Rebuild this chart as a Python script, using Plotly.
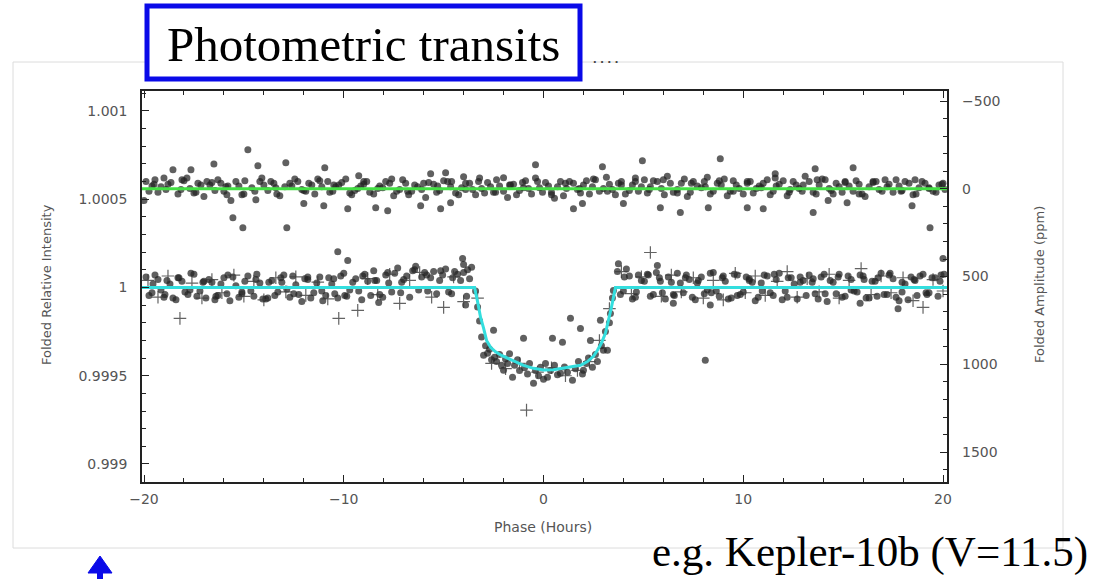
import plotly.graph_objects as go

# ---------------- data ----------------
# Phase in hours; intensity given as (relative intensity - 1) in ppm.
upper_a_phase = [
    -19.9, -19.6, -19.3, -19.0, -18.8, -18.3, -18.0, -17.7, -17.3, -17.0,
    -16.7, -16.3, -16.0, -15.8, -15.4, -15.0, -14.6, -14.1, -13.8, -13.5,
    -13.2, -12.6, -12.3, -11.9, -11.6, -11.3, -10.7, -10.4, -10.1, -9.6,
    -9.3, -9.0, -8.7, -8.2, -7.9, -7.5, -7.2, -6.9, -6.6, -6.3,
    -5.9, -5.5, -5.2, -4.8, -4.4, -4.1, -3.7, -3.4, -3.1, -2.8,
    -2.5, -2.2, -1.8, -1.5, -1.2, -0.9, -0.6, -0.2, 0.1, 0.4,
    0.7, 1.0, 1.3, 1.7, 2.0, 2.3, 2.6, 3.0, 3.3, 3.6,
    3.9, 4.3, 4.6, 4.9, 5.2, 5.5, 5.9, 6.2, 6.5, 6.9,
    7.2, 7.5, 7.9, 8.2, 8.5, 8.9, 9.2, 9.5, 9.8, 10.2,
    10.5, 10.8, 11.2, 11.5, 11.8, 12.2, 12.5, 12.8, 13.1, 13.5,
    13.8, 14.1, 14.5, 14.8, 15.1, 15.5, 15.8, 16.1, 16.5, 16.8,
    17.1, 17.5, 17.8, 18.1, 18.5, 18.8, 19.1, 19.5, 19.8, 20.1,
]
upper_a_ppm = [
    600, 575, 540, 620, 585, 530, 605, 560, 590, 515,
    580, 610, 545, 575, 600, 530, 565, 620, 550, 590,
    520, 575, 600, 545, 580, 615, 540, 570, 595, 525,
    560, 585, 540, 575, 600, 520, 555, 590, 545, 570,
    510, 585, 550, 600, 535, 565, 590, 525, 560, 595,
    540, 575, 510, 585, 550, 605, 530, 565, 595, 540,
    570, 520, 600, 555, 580, 530, 610, 560, 585, 525,
    600, 550, 620, 570, 535, 605, 560, 630, 540, 590,
    515, 600, 565, 625, 545, 580, 520, 605, 560, 590,
    535, 575, 610, 545, 585, 520, 600, 560, 630, 540,
    580, 610, 530, 570, 600, 545, 585, 515, 595, 555,
    610, 540, 575, 600, 525, 565, 590, 545, 580, 555,
]
upper_b_phase = [
    -19.75, -19.45, -19.15, -18.65, -18.15, -17.85, -17.5, -17.15, -16.85, -16.45,
    -16.15, -15.85, -15.25, -14.95, -14.45, -14.0, -13.65, -13.35, -12.95, -12.45,
    -12.1, -11.75, -11.45, -11.1, -10.8, -10.55, -10.25, -9.9, -9.45, -9.15,
    -8.85, -8.5, -8.05, -7.7, -7.35, -7.05, -6.75, -6.45, -6.1, -5.75,
    -5.35, -5.0, -4.65, -4.25, -3.9, -3.55, -3.25, -2.95, -2.65, -2.35,
    -2.0, -1.65, -1.35, -1.05, -0.75, -0.4, -0.05, 0.25, 0.55, 0.85,
    1.15, 1.5, 1.85, 2.15, 2.45, 2.8, 3.15, 3.45, 3.75, 4.1,
    4.45, 4.75, 5.05, 5.35, 5.7, 6.05, 6.35, 6.7, 7.05, 7.35,
    7.7, 8.05, 8.35, 8.7, 9.05, 9.35, 9.65, 10.0, 10.35, 10.65,
    11.0, 11.35, 11.65, 12.0, 12.35, 12.65, 12.95, 13.3, 13.65, 13.95,
    14.3, 14.65, 14.95, 15.3, 15.65, 15.95, 16.3, 16.65, 16.95, 17.3,
    17.65, 17.95, 18.3, 18.65, 18.95, 19.3, 19.65, 19.95,
]
upper_b_ppm = [
    545, 610, 570, 595, 555, 620, 535, 580, 600, 550,
    590, 525, 575, 605, 545, 580, 600, 530, 570, 615,
    555, 590, 530, 570, 600, 545, 580, 615, 550, 575,
    600, 530, 565, 590, 545, 610, 525, 580, 555, 595,
    540, 605, 570, 525, 590, 555, 600, 535, 570, 610,
    545, 580, 525, 595, 560, 620, 540, 575, 505, 600,
    560, 590, 535, 605, 570, 545, 625, 555, 590, 530,
    580, 545, 610, 570, 600, 525, 590, 555, 615, 540,
    575, 600, 530, 590, 615, 545, 580, 530, 600, 560,
    590, 525, 575, 605, 555, 580, 545, 600, 530, 615,
    560, 590, 540, 575, 605, 530, 570, 600, 545, 585,
    610, 550, 590, 530, 600, 565, 540, 585,
]
upper_c_phase = [
    -19.5, -18.9, -18.1, -17.4, -16.6, -15.9, -15.1, -14.2, -13.4, -12.7,
    -12.0, -11.2, -10.5, -9.7, -9.0, -8.3, -7.6, -6.8, -6.0, -5.3,
    -4.6, -3.9, -3.2, -2.4, -1.7, -1.0, -0.3, 0.4, 1.1, 1.8,
    2.5, 3.2, 3.9, 4.6, 5.3, 6.0, 6.7, 7.4, 8.1, 8.8,
    9.5, 10.2, 10.9, 11.6, 12.3, 13.0, 13.7, 14.4, 15.1, 15.8,
    16.5, 17.2, 17.9, 18.6, 19.3, 20.0,
]
upper_c_ppm = [
    585, 555, 610, 540, 595, 570, 525, 600, 565, 590,
    550, 605, 580, 535, 600, 560, 615, 545, 590, 575,
    600, 555, 620, 540, 580, 565, 600, 525, 590, 560,
    615, 545, 580, 600, 555, 610, 535, 590, 570, 605,
    545, 600, 565, 620, 540, 580, 610, 550, 595, 530,
    600, 570, 545, 610, 560, 590,
]
upper_out_phase = [
    -14.8, -16.5, -14.3, -12.9, -10.95, -17.65, -18.55, -15.65, -14.4, -15.55,
    -15.05, -12.85, -12.0, -11.0, -9.8, -20.0, -0.4, -8.4, -7.8, -6.15,
    -5.15, -4.65, -5.65, -4.9, -4.0, -2.0, -9.25, 4.95, 2.95, 8.85,
    1.5, 1.95, 4.0, 5.85, 6.85, 8.25, 10.2, 19.35, 11.0, 13.5,
    15.5, 13.6, 11.6, 15.2, 18.45, 14.25,
]
upper_out_ppm = [
    780, 700, 689, 706, 678, 667, 667, 492, 497, 395,
    339, 339, 475, 463, 446, 492, 695, 452, 435, 463,
    446, 480, 644, 650, 627, 621, 633, 718, 684, 729,
    446, 475, 475, 452, 424, 452, 452, 339, 446, 424,
    678, 672, 644, 480, 463, 492,
]

lower_a_phase = [
    -19.9, -19.6, -19.3, -19.0, -18.7, -18.4, -18.1, -17.8, -17.5, -17.2,
    -16.9, -16.6, -16.3, -16.0, -15.7, -15.4, -15.1, -14.8, -14.5, -14.2,
    -13.9, -13.6, -13.3, -13.0, -12.7, -12.4, -12.1, -11.8, -11.5, -11.2,
    -10.9, -10.6, -10.3, -10.0, -9.7, -9.4, -9.1, -8.8, -8.5, -8.2,
    -7.9, -7.6, -7.3, -7.0, -6.7, -6.4, -6.1, -5.8, -5.5, -5.2,
    -4.9, -4.6, -4.3, -4.0, -3.7,
    3.7, 4.0, 4.3, 4.6, 4.9, 5.2, 5.5, 5.8, 6.1, 6.4,
    6.7, 7.0, 7.3, 7.6, 7.9, 8.2, 8.5, 8.8, 9.1, 9.4,
    9.7, 10.0, 10.3, 10.6, 10.9, 11.2, 11.5, 11.8, 12.1, 12.4,
    12.7, 13.0, 13.3, 13.6, 13.9, 14.2, 14.5, 14.8, 15.1, 15.4,
    15.7, 16.0, 16.3, 16.6, 16.9, 17.2, 17.5, 17.8, 18.1, 18.4,
    18.7, 19.0, 19.3, 19.6, 19.9,
]
lower_a_ppm = [
    60, -30, 45, -55, 20, -70, 35, -40, 75, -20,
    -60, 30, -45, 55, -75, 10, -35, 65, -50, 25,
    -65, 40, -25, 70, -55, 15, -80, 45, -30, 60,
    -45, 20, -60, 80, -15, 50, -70, 35, 95, -40,
    70, -25, 110, 45, -55, 120, 60, -20, 90, 40,
    105, -35, 75, 130, 50,
    90, -20, 65, -55, 40, 75, -40, 55, -65, 30,
    80, -30, 45, -70, 60, -15, 85, -50, 35, -60,
    70, -25, 50, -75, 25, 65, -45, 80, -20, 55,
    -65, 40, 70, -35, 60, -80, 30, 75, -50, 45,
    -25, 65, -60, 35, 80, -40, 50, -75, 20, 60,
    -45, 75, -30, 55, 70,
]
lower_b_phase = [
    -19.75, -19.45, -19.15, -18.85, -18.55, -18.25, -17.95, -17.65, -17.35, -17.05,
    -16.75, -16.45, -16.15, -15.85, -15.55, -15.25, -14.95, -14.65, -14.35, -14.05,
    -13.75, -13.45, -13.15, -12.85, -12.55, -12.25, -11.95, -11.65, -11.35, -11.05,
    -10.75, -10.45, -10.15, -9.85, -9.55, -9.25, -8.95, -8.65, -8.35, -8.05,
    -7.75, -7.45, -7.15, -6.85, -6.55, -6.25, -5.95, -5.65, -5.35, -5.05,
    -4.75, -4.45, -4.15, -3.85, -3.6,
    3.85, 4.15, 4.45, 4.75, 5.05, 5.35, 5.65, 5.95, 6.25, 6.55,
    6.85, 7.15, 7.45, 7.75, 8.05, 8.35, 8.65, 8.95, 9.25, 9.55,
    9.85, 10.15, 10.45, 10.75, 11.05, 11.35, 11.65, 11.95, 12.25, 12.55,
    12.85, 13.15, 13.45, 13.75, 14.05, 14.35, 14.65, 14.95, 15.25, 15.55,
    15.85, 16.15, 16.45, 16.75, 17.05, 17.35, 17.65, 17.95, 18.25, 18.55,
    18.85, 19.15, 19.45, 19.75, 20.05,
]
lower_b_ppm = [
    -45, 70, -15, 40, -60, 55, -25, 80, -50, 30,
    45, -70, 20, -35, 60, -55, 35, -20, 75, -65,
    30, -45, 55, -10, 65, -40, 50, -60, 25, -75,
    55, -35, 65, -50, 30, -20, 75, -45, 40, -55,
    25, 80, -30, 65, 95, -15, 85, 55, -35, 70,
    -25, 90, 40, -50, 115,
    -40, 105, -65, 70, 35, -50, 85, -30, 60, -45,
    25, 70, -55, 40, -35, 80, -20, 55, -65, 75,
    -40, 60, 30, -55, 70, -30, 45, -70, 55, 20,
    60, -45, 30, -65, 75, 40, -35, -55, 65, -20,
    70, -60, 35, 55, -40, 80, -55, 30, -70, 45,
    65, -30, 55, -50, 75,
]
lower_c_phase = [
    -19.55, -18.95, -18.3, -17.7, -17.0, -16.4, -15.8, -15.1, -14.4, -13.8,
    -13.1, -12.5, -11.8, -11.1, -10.5, -9.95, -9.05, -8.45, -7.8, -7.1,
    -6.45, -5.85, -5.15, -4.55, -4.0,
    4.05, 4.65, 5.25, 5.85, 6.5, 7.1, 7.7, 8.4, 9.0, 9.7,
    10.3, 10.95, 11.55, 12.2, 12.85, 13.5, 14.1, 14.75, 15.4, 16.05,
    16.7, 17.3, 17.95, 18.6, 19.2, 19.85,
]
lower_c_ppm = [
    20, -40, 55, -15, 35, -50, 70, -25, 45, -60,
    30, -35, 60, -20, 50, -45, 65, 40, 85, 30,
    100, 70, 95, 55, 85,
    60, -25, 70, 35, -40, 55, 25, -30, 65, -45,
    40, -20, 75, -55, 30, 50, -35, 60, -15, 45,
    -50, 70, -25, 40, -40, 35,
]
lower_out_phase = [-10.3, -9.8, -4.05, -3.8, -8.25, -3.9, 3.75, 5.7, 6.5, 8.35,
                   15.85, 17.75, 20.0, 8.1]
lower_out_ppm = [203, 153, 164, 100, -85, -100, 135, 124, -90, -100,
                 -90, -120, 164, -412]

transit_phase = [
    -3.4, -3.3, -3.2, -3.1, -3.0, -2.9, -2.8, -2.7, -2.6, -2.5,
    -2.45, -2.35, -2.2, -2.1, -2.0, -1.9, -1.8, -1.7, -1.55, -1.45,
    -1.3, -1.2, -1.0, -0.95, -0.8, -0.7, -0.5, -0.4, -0.25, -0.15,
    0.0, 0.1, 0.2, 0.35, 0.45, 0.55, 0.7, 0.85, 0.95, 1.05,
    1.2, 1.35, 1.45, 1.6, 1.75, 1.85, 1.95, 2.0, 2.15, 2.25,
    2.35, 2.45, 2.6, 2.7, 2.85, 2.9, 3.0, 3.1, 3.2, 3.3,
    3.35, 3.45, 3.5,
]
transit_ppm = [
    -20, -110, -190, -280, -384, -330, -373, -350, -410, -243,
    -395, -420, -380, -440, -469, -405, -430, -375, -508, -440,
    -410, -470, -288, -455, -490, -430, -542, -470, -500, -452,
    -520, -430, -508, -470, -288, -440, -495, -486, -311, -450,
    -480, -175, -525, -460, -420, -232, -490, -469, -430, -400,
    -300, -452, -380, -420, -186, -330, -356, -250, -356, -200,
    -147, -60, -17,
]

cross_phase = [
    -19.8, -19.3, -18.8, -18.2, -17.6, -17.1, -16.6, -16.1, -15.5, -15.0,
    -14.5, -14.0, -13.4, -12.9, -12.4, -11.9, -11.3, -10.8, -10.25, -9.3,
    -8.8, -8.3, -7.7, -7.2, -6.7, -6.2, -5.6, -5.0, -4.5, -4.0,
    3.9, 4.4, 4.9, 5.35, 5.9, 6.4, 6.9, 7.5, 8.0, 8.5,
    9.0, 9.6, 10.1, 10.6, 11.1, 11.7, 12.2, 12.7, 13.2, 13.8,
    14.3, 14.8, 15.3, 15.9, 16.4, 16.9, 17.4, 18.0, 18.5, 19.0,
    19.5, 20.0,
    -3.3, -2.6, -1.9, -1.2, -0.85, -0.3, 0.4, 1.1, 1.7, 2.3, 2.8, 3.3,
]
cross_ppm = [
    40, -55, 65, -175, 25, -60, 45, -30, 70, -50,
    35, -70, 55, -25, 60, -45, 30, -65, -175, -130,
    50, -40, 75, -90, 40, 85, -55, -113, 60, -80,
    90, -35, 60, 198, -50, 70, -25, 55, -60, 40,
    -70, 80, -30, 65, -45, 35, 90, -55, 50, -25,
    75, -60, 40, 107, -40, 65, -30, 55, -75, -113,
    45, -20,
    -60, -430, -460, -430, -695, -480, -455, -500, -470, -420, -300, -120,
]

# fitted models
flat_phase = [-20.2, 20.2]
flat_ppm = [559, 559]
model_phase = [-20.2, -3.45, -3.3, -3.15, -3.0, -2.85, -2.65, -2.4, -2.1, -1.8,
               -1.4, -1.0, -0.5, 0.0, 0.5, 1.0, 1.4, 1.85, 2.2, 2.5,
               2.7, 2.9, 3.1, 3.25, 3.4, 3.6, 20.2]
model_ppm = [0, 0, -80, -170, -230, -300, -339, -365, -385, -401,
             -422, -441, -458, -468, -466, -458, -450, -441, -420, -390,
             -356, -315, -260, -190, -113, 0, 0]

left_tickvals = [0.999, 0.9995, 1.0, 1.0005, 1.001]
left_ticktext = ["0.999", "0.9995", "1", "1.0005", "1.001"]
right_tickvals = [-500, 0, 500, 1000, 1500]
x_tickvals = [-20, -10, 0, 10, 20]


def rel(ppm_list):
    return [1 + v * 1e-6 for v in ppm_list]


# ---------------- layout geometry (reference pixels) ----------------
W, H = 1101, 579
L, R, T, B = 142, 947, 91, 482


def px(xp):
    return (xp - L) / (R - L)


def py(yp):
    return (B - yp) / (B - T)


dot_color = "rgba(35,35,35,0.72)"
fig = go.Figure()

for xs, ys in [(upper_a_phase, upper_a_ppm), (upper_b_phase, upper_b_ppm),
               (upper_c_phase, upper_c_ppm), (upper_out_phase, upper_out_ppm),
               (lower_a_phase, lower_a_ppm), (lower_b_phase, lower_b_ppm),
               (lower_c_phase, lower_c_ppm), (lower_out_phase, lower_out_ppm),
               (transit_phase, transit_ppm)]:
    fig.add_trace(go.Scatter(x=xs, y=rel(ys), mode="markers",
                             marker=dict(symbol="circle", size=7, color=dot_color,
                                         line=dict(width=0)),
                             showlegend=False, hoverinfo="skip"))

fig.add_trace(go.Scatter(x=cross_phase, y=rel(cross_ppm), mode="markers",
                         marker=dict(symbol="cross-thin", size=9,
                                     line=dict(width=1.2, color="rgba(60,60,60,0.8)")),
                         showlegend=False, hoverinfo="skip"))

fig.add_trace(go.Scatter(x=flat_phase, y=rel(flat_ppm), mode="lines",
                         line=dict(color="#44e044", width=3),
                         showlegend=False, hoverinfo="skip"))
fig.add_trace(go.Scatter(x=model_phase, y=rel(model_ppm), mode="lines",
                         line=dict(color="#33dede", width=3),
                         showlegend=False, hoverinfo="skip"))
# invisible anchor for the right-hand ppm axis
fig.add_trace(go.Scatter(x=[None], y=[None], yaxis="y2", mode="markers",
                         showlegend=False, hoverinfo="skip"))

tickfont = dict(family="DejaVu Sans, Arial, sans-serif", size=14, color="#555555")

fig.update_layout(
    width=W, height=H,
    margin=dict(l=L, r=W - R, t=T, b=H - B),
    paper_bgcolor="white", plot_bgcolor="white",
    showlegend=False,
    xaxis=dict(range=[-20.1, 20.2], tickvals=x_tickvals, ticks="inside",
               ticklen=7, tickwidth=1.3, tickcolor="#222",
               minor=dict(dtick=2, ticks="inside", ticklen=4, tickcolor="#222"),
               showline=True, linecolor="#222", linewidth=1.5, mirror="ticks",
               showgrid=False, zeroline=False, tickfont=tickfont,
               ticklabelstandoff=3),
    yaxis=dict(range=[0.998898, 1.001113], tickvals=left_tickvals,
               ticktext=left_ticktext, ticks="inside", ticklen=7, tickwidth=1.3,
               tickcolor="#222",
               minor=dict(dtick=0.0001, ticks="inside", ticklen=4, tickcolor="#222"),
               showline=True, linecolor="#222", linewidth=1.5, mirror=True,
               showgrid=False, zeroline=False, tickfont=tickfont,
               ticklabelstandoff=10),
    yaxis2=dict(overlaying="y", side="right", range=[1670, -557],
                tickvals=right_tickvals, ticks="inside", ticklen=7, tickwidth=1.3,
                tickcolor="#222",
                minor=dict(dtick=100, ticks="inside", ticklen=4, tickcolor="#222"),
                showline=False, showgrid=False, zeroline=False, tickfont=tickfont,
                ticklabelstandoff=14),
)

lab_font = dict(family="DejaVu Sans, Arial, sans-serif", size=13, color="#555555")
serif = "Liberation Serif, Times New Roman, serif"


def note(xp, yp, text, font, angle=0):
    fig.add_annotation(x=px(xp), y=py(yp), xref="paper", yref="paper",
                       xanchor="center", yanchor="middle", showarrow=False,
                       text=text, textangle=angle, font=font)


note(46, 285, "Folded Relative Intensity", lab_font, -90)
note(1039, 285, "Folded Amplitude (ppm)", lab_font, -90)
note(543, 527, "Phase (Hours)", dict(lab_font, size=14))

# slide picture frame
fig.add_shape(type="rect", xref="paper", yref="paper",
              x0=px(13), x1=px(1063), y0=py(548), y1=py(62),
              line=dict(color="#dcdcdc", width=1), fillcolor="rgba(0,0,0,0)",
              layer="below")
# title box
fig.add_shape(type="rect", xref="paper", yref="paper",
              x0=px(147), x1=px(580), y0=py(79), y1=py(6),
              line=dict(color="#0a0ae8", width=5), fillcolor="white", layer="above")
note(363, 44, "Photometric transits", dict(family=serif, size=49, color="black"))
note(605, 59, "<b>. . . .</b>", dict(family="Arial", size=13, color="#444"))
note(870, 552, "e.g. Kepler-10b (V=11.5)", dict(family=serif, size=43, color="black"))

# blue arrow at the bottom-left (slide decoration)
arrow_path = "M {} {} L {} {} L {} {} Z".format(
    px(88), py(573), px(100), py(556), px(112), py(573))
fig.add_shape(type="path", xref="paper", yref="paper", path=arrow_path,
              fillcolor="#0a0ae8", line=dict(color="#0a0ae8", width=1))
fig.add_shape(type="rect", xref="paper", yref="paper",
              x0=px(97), x1=px(103), y0=py(580), y1=py(570),
              fillcolor="#0a0ae8", line=dict(width=0))

# the page body's default 8px margin would push the fixed-size figure off-frame
fig.write_html("out.html", config={"displayModeBar": False},
               post_script="document.body.style.margin='0px';")
